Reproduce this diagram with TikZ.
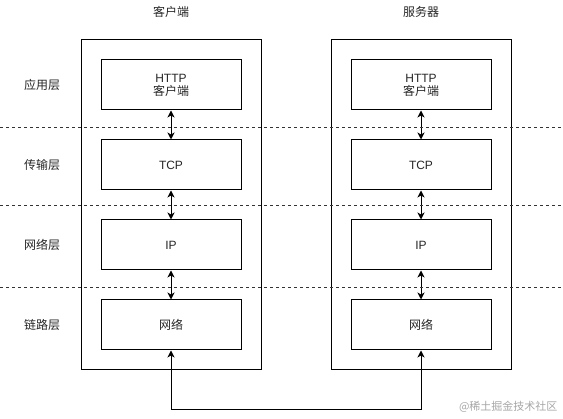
\documentclass[tikz,border=0pt]{standalone}
\usepackage{fontspec}
\setmainfont{Liberation Sans}
\newfontfamily\cjk{Noto Sans CJK SC}
\usetikzlibrary{arrows.meta}
\begin{document}
\begin{tikzpicture}[x=1pt,y=-1pt,
  every node/.style={font=\fontsize{12}{14}\selectfont, text=black!85},
  outerbox/.style={draw=black, line width=1pt, minimum width=180pt, minimum height=330pt, inner sep=0pt},
  layerbox/.style={draw=black, line width=1pt, minimum width=140pt, minimum height=50pt, inner sep=0pt, align=center},
  lbl/.style={font=\cjk\fontsize{12}{14}\selectfont},
  sep/.style={dashed, dash pattern=on 3pt off 3pt, line width=0.8pt, black!80},
  link/.style={line width=1pt, {Stealth[length=7pt,width=7pt,inset=2pt]}-{Stealth[length=7pt,width=7pt,inset=2pt]}}
]
\useasboundingbox (0,0) rectangle (563,419);
\node[outerbox] (cl) at (171,205) {};
\node[outerbox] (sv) at (421,205) {};
\node[lbl] (ch) at (171,12) {客户端};
\node[lbl] (sh) at (421,12) {服务器};
\foreach \s/\x in {c/171,s/421}{
  \node[layerbox] (\s1) at (\x,85) {HTTP\\[-1pt]{\cjk 客户端}};
  \node[layerbox] (\s2) at (\x,165) {TCP};
  \node[layerbox] (\s3) at (\x,245) {IP};
  \node[layerbox,font=\cjk\fontsize{12}{14}\selectfont] (\s4) at (\x,325) {网络};
  \draw[link] (\s1) -- (\s2);
  \draw[link] (\s2) -- (\s3);
  \draw[link] (\s3) -- (\s4);
}
\node[lbl] (l1) at (42,85) {应用层};
\node[lbl] (l2) at (42,165) {传输层};
\node[lbl] (l3) at (42,245) {网络层};
\node[lbl] (l4) at (42,325) {链路层};
\coordinate (a1) at (0,127); \coordinate (b1) at (563,127);
\coordinate (a2) at (0,205); \coordinate (b2) at (563,205);
\coordinate (a3) at (0,287); \coordinate (b3) at (563,287);
\draw[sep] (a1) -- (b1);
\draw[sep] (a2) -- (b2);
\draw[sep] (a3) -- (b3);
\coordinate (bot) at (0,410);
\draw[link] (c4.south) -- (c4.south |- bot) -| (s4.south);
\node[font=\cjk\fontsize{11}{13}\selectfont, text=black!35, anchor=east] (wm) at (561,407) {@稀土掘金技术社区};
\end{tikzpicture}
\end{document}
